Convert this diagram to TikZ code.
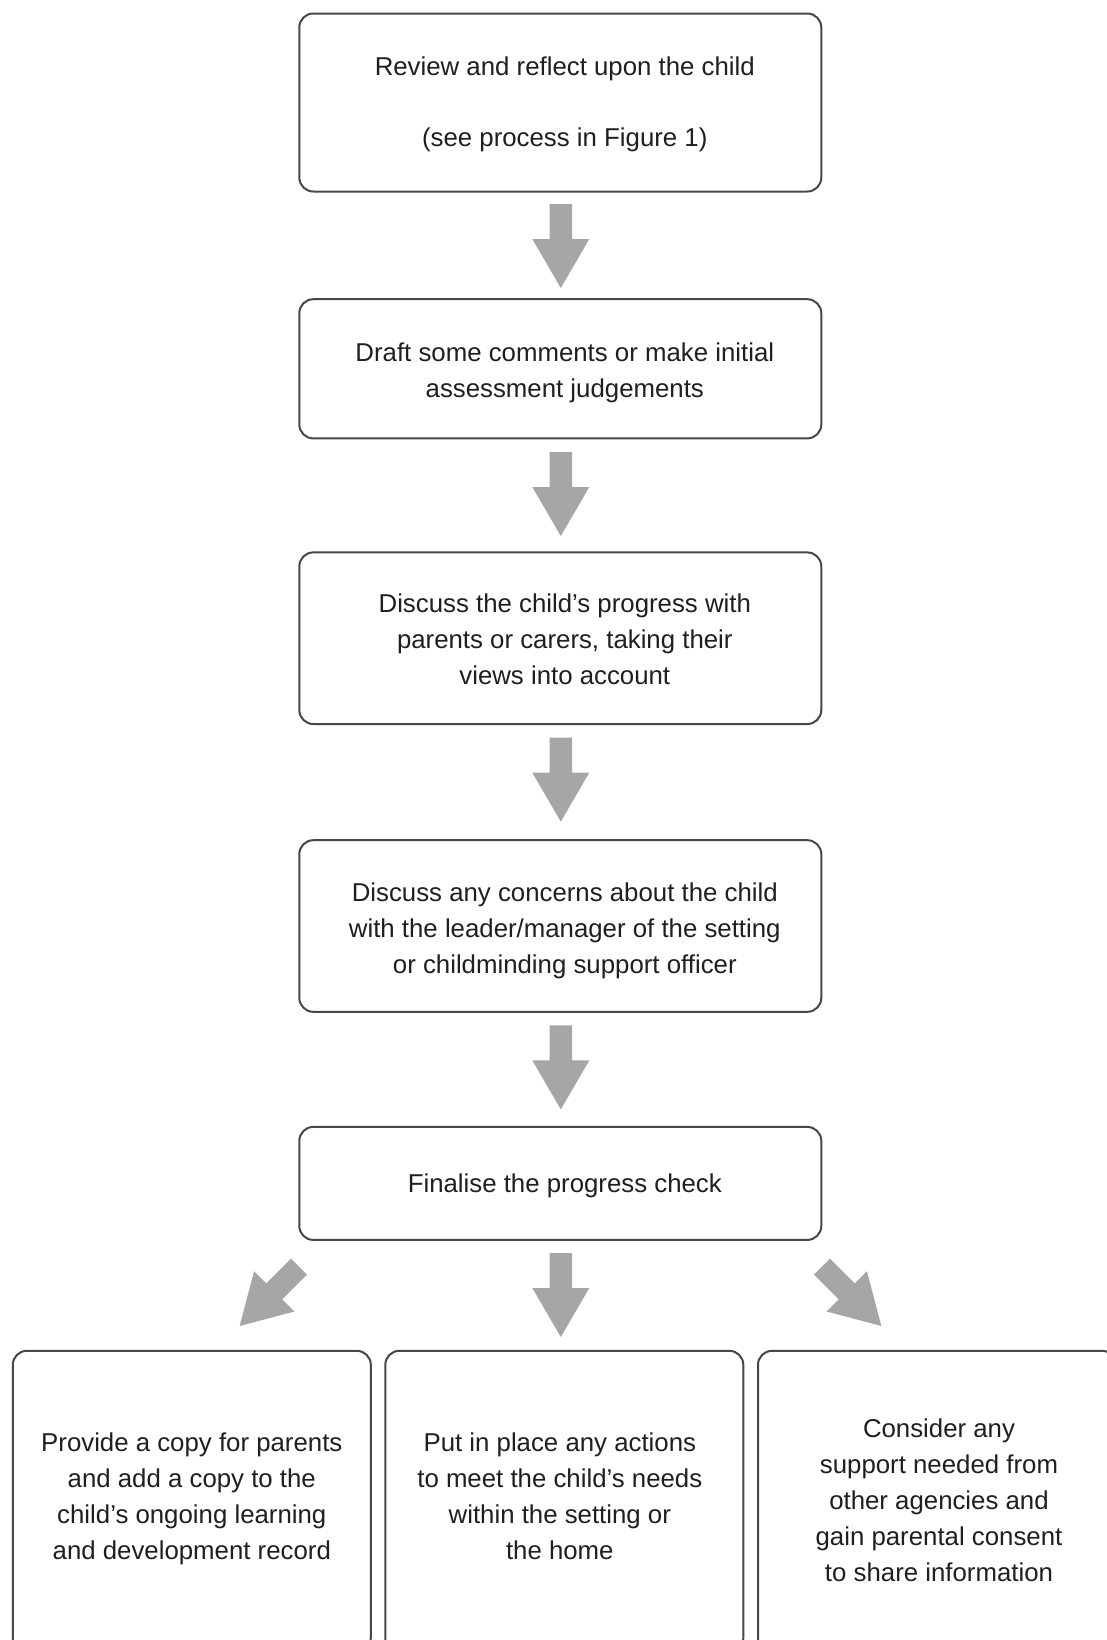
\documentclass[tikz,border=0pt]{standalone}
\usepackage{fontspec}
\setmainfont{Liberation Sans}
\begin{document}
\begin{tikzpicture}[x=0.5pt,y=-0.5pt,
  box/.style={draw=black!72, line width=1pt, rounded corners=7pt, fill=white, inner sep=0pt},
  mainbox/.style={box, minimum width=261pt},
  lowbox/.style={box, minimum width=179pt, minimum height=150.6pt},
  txt/.style={align=center, text=black!88, inner sep=0pt,
    font=\fontsize{12.9}{18}\selectfont},
  blockarrow/.pic={\fill[arrowgray] (-11.25,0) -- (11.25,0) -- (11.25,35) -- (28.5,35) -- (0,84) -- (-28.5,35) -- (-11.25,35) -- cycle;}
]
\definecolor{arrowgray}{HTML}{A6A6A6}
\clip (0,0) rectangle (1107,1640);
\fill[white] (0,0) rectangle (1107,1640);

\node[mainbox, minimum height=89pt] (b1) at (560.3,102.5) {};
\node[mainbox, minimum height=69.6pt] (b2) at (560.3,368.8) {};
\node[mainbox, minimum height=85.8pt] (b3) at (560.3,638.2) {};
\node[mainbox, minimum height=85.8pt] (b4) at (560.3,926) {};
\node[mainbox, minimum height=56.5pt] (b5) at (560.3,1183.4) {};
\node[lowbox] (c1) at (191.8,1501.4) {};
\node[lowbox] (c2) at (564.3,1501.4) {};
\node[lowbox] (c3) at (937,1501.4) {};

\node[txt] (t1) at ([shift={(4.5,2)}]b1.center)
  {Review and reflect upon the child\\[17.5pt](see process in Figure 1)};
\node[txt] (t2) at ([shift={(4.5,4)}]b2.center)
  {Draft some comments or make initial\\assessment judgements};
\node[txt] (t3) at ([shift={(4.5,1)}]b3.center)
  {Discuss the child’s progress with\\parents or carers, taking their\\views into account};
\node[txt] (t4) at ([shift={(4.5,4.5)}]b4.center)
  {Discuss any concerns about the child\\with the leader/manager of the setting\\or childminding support officer};
\node[txt] (t5) at ([shift={(4.5,2)}]b5.center)
  {Finalise the progress check};
\node[txt] (u1) at ([shift={(0,-3)}]c1.center)
  {Provide a copy for parents\\and add a copy to the\\child’s ongoing learning\\and development record};
\node[txt] (u2) at ([shift={(-4.5,-5)}]c2.center)
  {Put in place any actions\\to meet the child’s needs\\within the setting or\\the home};
\node[txt] (u3) at ([shift={(2,-1)}]c3.center)
  {Consider any\\support needed from\\other agencies and\\gain parental consent\\to share information};

\pic at (560.8,204) {blockarrow};
\pic at (560.8,452) {blockarrow};
\pic at (560.8,737.6) {blockarrow};
\pic at (560.8,1025.4) {blockarrow};
\pic at (560.8,1253) {blockarrow};
\pic[rotate=-45] at (299,1266.6) {blockarrow};
\pic[rotate=45] at (822,1266.6) {blockarrow};
\end{tikzpicture}
\end{document}
